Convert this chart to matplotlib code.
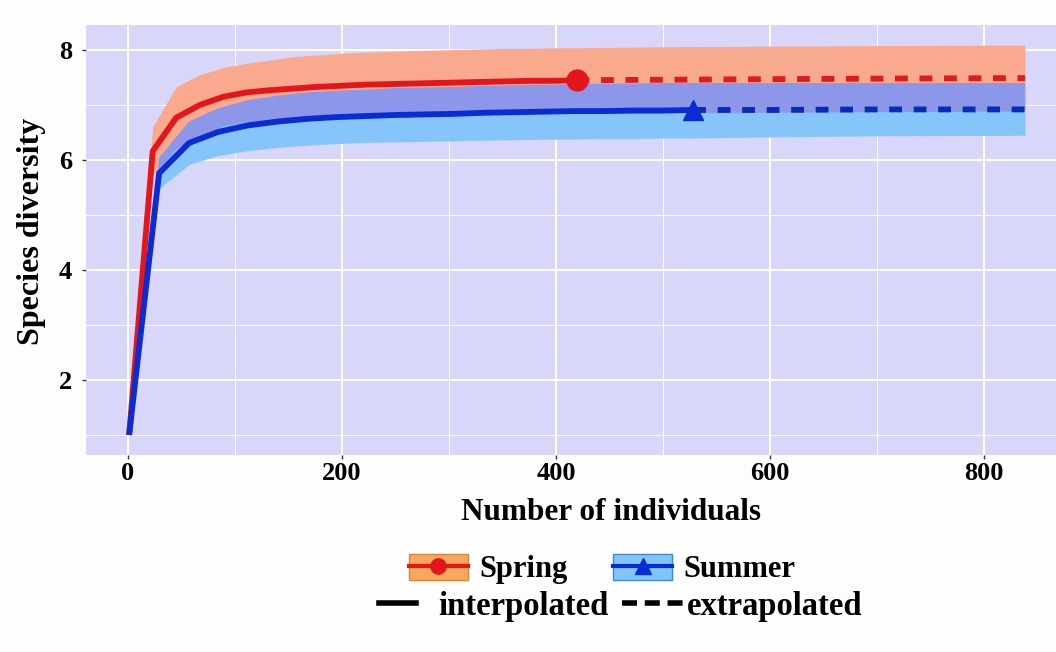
import numpy as np
import matplotlib
matplotlib.use("Agg")
import matplotlib.pyplot as plt
from matplotlib.lines import Line2D
from matplotlib.patches import Patch

plt.rcParams['font.family'] = ['Liberation Serif', 'DejaVu Serif']
plt.rcParams['font.weight'] = 'bold'

# ---- Spring (interpolated part, rarefaction) ----
spring_x = [1, 23, 45, 67, 89, 111, 133, 155, 177, 199, 221, 243, 265, 287, 309, 331, 353, 375, 397, 419]
spring_y = [1.00, 6.16, 6.77, 7.00, 7.15, 7.23, 7.27, 7.30, 7.33, 7.35, 7.37, 7.38, 7.39, 7.40, 7.41, 7.42, 7.43, 7.44, 7.44, 7.45]
spring_lo = [1.00, 5.72, 6.21, 6.45, 6.62, 6.70, 6.70, 6.72, 6.75, 6.76, 6.78, 6.79, 6.79, 6.80, 6.81, 6.82, 6.83, 6.84, 6.85, 6.86]
spring_hi = [1.00, 6.60, 7.33, 7.55, 7.68, 7.76, 7.82, 7.88, 7.91, 7.94, 7.96, 7.97, 7.99, 8.00, 8.01, 8.02, 8.03, 8.03, 8.04, 8.04]
# Spring extrapolated
spring_ex_x = [419, 500, 600, 700, 838]
spring_ex_y = [7.45, 7.46, 7.47, 7.48, 7.49]
spring_ex_lo = [6.86, 6.86, 6.87, 6.88, 6.89]
spring_ex_hi = [8.04, 8.06, 8.07, 8.08, 8.09]

# ---- Summer ----
summer_x = [1, 29, 57, 84, 112, 140, 168, 195, 223, 251, 279, 306, 334, 362, 390, 417, 445, 473, 501, 528]
summer_y = [1.00, 5.76, 6.31, 6.51, 6.63, 6.70, 6.75, 6.78, 6.80, 6.82, 6.83, 6.84, 6.86, 6.87, 6.88, 6.89, 6.89, 6.90, 6.90, 6.91]
summer_lo = [1.00, 5.48, 5.92, 6.08, 6.17, 6.23, 6.27, 6.30, 6.32, 6.33, 6.34, 6.35, 6.36, 6.37, 6.38, 6.38, 6.39, 6.39, 6.40, 6.40]
summer_hi = [1.00, 6.04, 6.70, 6.94, 7.09, 7.17, 7.23, 7.26, 7.28, 7.31, 7.32, 7.33, 7.35, 7.36, 7.37, 7.38, 7.39, 7.39, 7.40, 7.40]
summer_ex_x = [528, 600, 700, 838]
summer_ex_y = [6.91, 6.91, 6.92, 6.92]
summer_ex_lo = [6.40, 6.42, 6.44, 6.45]
summer_ex_hi = [7.40, 7.40, 7.40, 7.40]

xticks = [0, 200, 400, 600, 800]
yticks = [2, 4, 6, 8]

bg = '#D8D6F9'
red = '#E3161B'
blue = '#0B2CD2'

fig = plt.figure(figsize=(10.56, 6.52), dpi=100, facecolor='#FDFDFD')
ax = fig.add_axes([86/1056, 1-455/652, (1056-86)/1056, 430/652])
ax.set_facecolor(bg)
for s in ax.spines.values():
    s.set_visible(False)

# ribbons (interp + extrap joined)
sx = spring_x + spring_ex_x[1:]
slo = spring_lo + spring_ex_lo[1:]
shi = spring_hi + spring_ex_hi[1:]
ux = summer_x + summer_ex_x[1:]
ulo = summer_lo + summer_ex_lo[1:]
uhi = summer_hi + summer_ex_hi[1:]

ax.fill_between(sx, slo, shi, color='#F9A98E', lw=0, zorder=2)
bpoly = ax.fill_between(ux, ulo, uhi, color='#86C5F9', lw=0, zorder=2.1)
ov = ax.fill_between(sx, slo, shi, color='#8D97EA', lw=0, zorder=2.2)
ov.set_clip_path(bpoly.get_paths()[0], ax.transData)

# lines
ax.plot(spring_x, spring_y, color=red, lw=4.2, zorder=3, solid_capstyle='butt')
ax.plot(spring_ex_x, spring_ex_y, color='#D81E1E', lw=4.2, dashes=(2.2, 2.0), zorder=3)
ax.plot(summer_x, summer_y, color=blue, lw=4.2, zorder=3.1, solid_capstyle='butt')
ax.plot(summer_ex_x, summer_ex_y, color='#0A2AB8', lw=4.2, dashes=(2.2, 2.0), zorder=3.1)
ax.plot(spring_x[-1], spring_y[-1], 'o', color=red, ms=15, zorder=4)
ax.plot(summer_x[-1], summer_y[-1], '^', color=blue, ms=15, zorder=4)

ax.set_xlim(-39.3, 867)
ax.set_ylim(0.636, 8.455)
ax.set_xticks(xticks)
ax.set_yticks(yticks)
ax.set_xticks([100, 300, 500, 700], minor=True)
ax.set_yticks([1, 3, 5, 7], minor=True)
ax.grid(which='major', color='white', lw=1.4, zorder=1)
ax.grid(which='minor', color='white', lw=0.7, zorder=1)
ax.set_axisbelow(True)
ax.tick_params(which='major', length=3, width=1, color='#333333', labelsize=19, pad=2)
ax.tick_params(axis='y', pad=7)
ax.tick_params(which='minor', length=0)

fig.text(611/1056, 1-520/652, 'Number of individuals', ha='center', va='baseline',
         fontsize=22.5, fontweight='bold')
fig.text(32/1056, 1-231/652, 'Species diversity', ha='center', va='center',
         rotation=90, fontsize=23, fontweight='bold')

h1 = [(Patch(facecolor='#F8A85C', edgecolor='#D08840'),
       Line2D([], [], color=red, lw=3, marker='o', ms=11)),
      (Patch(facecolor='#80C6F8', edgecolor='#3A8AD8'),
       Line2D([], [], color=blue, lw=3, marker='^', ms=12))]
leg1 = fig.legend(h1, ['Spring', 'Summer'], loc='center', ncol=2, frameon=False,
                  bbox_to_anchor=(602/1056, 1-569/652), fontsize=22,
                  handlelength=1.93, handleheight=0.98, handletextpad=0.36,
                  columnspacing=1.5, borderpad=0)

# linetype keys: two small legends so each key gets its own length
fig.legend([Line2D([], [], color='black', lw=4)], ['interpolated'], loc='center',
           frameon=False, bbox_to_anchor=(494/1056, 1-606/652), fontsize=23.5,
           handlelength=1.13, handletextpad=0.7, borderpad=0)
fig.legend([Line2D([], [], color='black', lw=4, dashes=(2.7, 1.4))], ['extrapolated'],
           loc='center', frameon=False, bbox_to_anchor=(742/1056, 1-606/652),
           fontsize=23.5, handlelength=1.9, handletextpad=0.1, borderpad=0)

fig.savefig('out.png', dpi=100, facecolor=fig.get_facecolor())
